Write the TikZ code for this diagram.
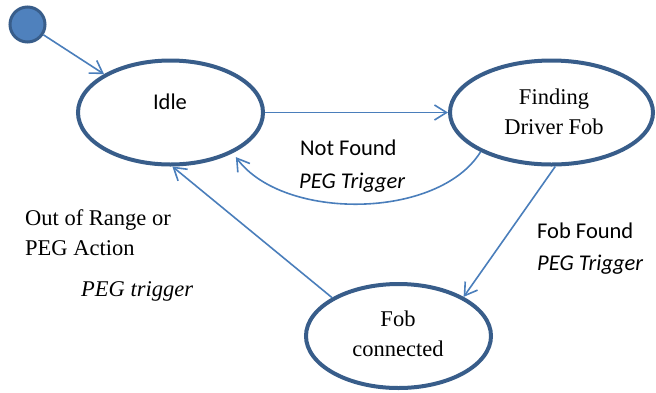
\documentclass[tikz,border=0pt]{standalone}
\usepackage{fontspec}
\setmainfont{Liberation Serif}
\newfontfamily\calibri{Carlito}
\usetikzlibrary{shapes.geometric,arrows.meta}
\definecolor{stateline}{HTML}{385D8A}
\definecolor{arrowline}{HTML}{4A7EBB}
\definecolor{startfill}{HTML}{4F81BD}
\begin{document}
\begin{tikzpicture}[x=1pt,y=-1pt,
  state/.style={ellipse, draw=stateline, line width=4pt, inner sep=0pt,
    minimum height=104pt},
  startstate/.style={circle, draw=stateline, fill=startfill, line width=3pt,
    inner sep=0pt, minimum size=35pt},
  trans/.style={draw=arrowline, line width=1.6pt,
    -{Straight Barb[length=12pt,width=15pt,line width=1.6pt]}},
  sans/.style={font=\calibri\fontsize{22.5}{27}\selectfont, inner sep=0pt},
  serif/.style={font=\fontsize{22.5}{30}\selectfont, inner sep=0pt}]
\useasboundingbox (0,0) rectangle (656,392);

% states
\node[startstate] (start) at (27.5,24.5) {};
\node[state, minimum width=185pt] (idle) at (170.5,112.5) {};
\node[state, minimum width=203pt] (finding) at (551.5,112.5) {};
\node[state, minimum width=185pt] (fobc) at (398.5,336) {};

% state names (base anchor sits on the last line)
\node[sans, anchor=base] (idletext) at (170,109.3) {Idle};
\node[serif, anchor=base, align=center] (findingtext) at (554,134) {Finding\\Driver Fob};
\node[serif, anchor=base, align=center] (fobctext) at (398,356) {Fob\\connected};

% transitions
\draw[trans] (start) -- (idle.150);
\draw[trans] (idle.east) -- (finding.west);
\draw[trans, shorten >=5pt] (finding.-151) .. controls +(-42,68) and +(50,68) .. (idle.-33.5);
\draw[trans] (finding.-86) -- (fobc.31);
\draw[trans] (fobc.150) -- (idle.-88);

% transition labels
\node[sans, anchor=base west] (nf1) at (300,155) {Not Found};
\node[sans, anchor=base west] (nf2) at (299,188) {\itshape PEG Trigger};
\node[sans, anchor=base west] (ff1) at (537,238.3) {Fob Found};
\node[sans, anchor=base west] (ff2) at (537,270) {\itshape PEG Trigger};
\node[serif, anchor=base west] (oor1) at (25,225) {Out of Range or};
\node[serif, anchor=base west] (oor2) at (25,255.7) {PEG Action};
\node[serif, anchor=base west] (oor3) at (81,296.7) {\itshape PEG trigger};
\end{tikzpicture}
\end{document}
